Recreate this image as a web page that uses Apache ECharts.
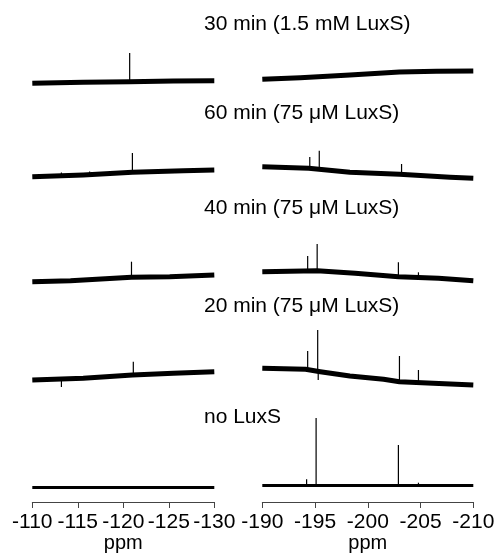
<!DOCTYPE html>
<html>
<head>
<meta charset="utf-8">
<script src="https://cdn.jsdelivr.net/npm/echarts@6/dist/echarts.min.js"></script>
<style>
html,body{margin:0;padding:0;background:#fff;}
#chart{width:499px;height:555px;}
</style>
</head>
<body>
<div id="chart"></div>
<script>
// ---------------- DATA ----------------
const rowLabels = ['30 min (1.5 mM LuxS)', '60 min (75 \u03bcM LuxS)', '40 min (75 \u03bcM LuxS)', '20 min (75 \u03bcM LuxS)', 'no LuxS'];
const leftRange = [-130, -110];
const rightRange = [-210, -190];
const tickInterval = 5;
const axisName = 'ppm';

// baselines: [ppm, intensity]
const base30L = [[-110, 6.7], [-115.6, 7.7], [-120.7, 8.3], [-125.5, 9], [-130, 9.2]];
const base30R = [[-190, 10.7], [-193.6, 12.3], [-198.3, 15], [-203, 18], [-206.5, 18.7], [-210, 19]];
const base60L = [[-110, 8.3], [-115.6, 10], [-121, 12.7], [-126.6, 14.3], [-130, 15]];
const base60R = [[-190, 18.3], [-194.4, 16.7], [-198.3, 12.7], [-203, 10.7], [-207.8, 7.7], [-210, 6.7]];
const base40L = [[-110, 8.3], [-114.2, 9.3], [-120.9, 12.7], [-125.1, 13.3], [-130, 15]];
const base40R = [[-190, 18.3], [-195.2, 19.3], [-198.8, 16.7], [-202.9, 13.3], [-206.7, 11.7], [-210, 9.3]];
const base20L = [[-110, 12], [-115.6, 13.7], [-121, 17], [-125.5, 18.7], [-130, 20.3]];
const base20R = [[-190, 23.7], [-194.1, 22.7], [-195.5, 20.3], [-198.3, 16], [-201.5, 12.7], [-203, 10.3], [-206.2, 8.7], [-210, 7]];
const base0L = [[-110, 14.5], [-130, 14.5]];
const base0R = [[-190, 16.5], [-210, 16.5]];

// peaks: [ppm, base intensity, tip intensity]
const peaks30L = [[-120.7, 8.3, 37]];
const peaks30R = [];
const peaks60L = [[-121, 12.5, 32], [-113.2, 9.5, 12.5], [-116.3, 10.3, 13.5]];
const peaks60R = [[-194.5, 16.7, 28], [-195.4, 16, 34.3], [-203.2, 10.7, 21]];
const peaks40L = [[-120.9, 12.5, 28.3]];
const peaks40R = [[-194.3, 19, 34], [-195.2, 19.3, 46], [-202.9, 13.3, 27.7], [-204.8, 12.5, 17.7]];
const peaks20L = [[-121.1, 16.5, 30.3], [-113.2, 13, 5]];
const peaks20R = [[-194.3, 22.7, 41], [-195.25, 21.5, 62], [-195.3, 21, 12], [-203, 10.3, 36], [-204.8, 9.5, 22]];
const peaks0L = [];
const peaks0R = [[-194.2, 16.5, 22.7], [-195.1, 16.5, 84], [-202.9, 16.5, 57], [-204.8, 16.5, 19.3], [-207, 16.5, 18]];

// ---------------- LAYOUT ----------------
const rowBottoms = [90, 185, 290, 392, 502];
const rowHeight = 90;
const labelY = [24, 113.7, 208.3, 306.2, 417.5];
const labelX = 204;
const panelLeft = [32.3, 262.3];
const panelWidth = [182, 211];
const baseWidths = [5, 5, 5, 5, 3];

const baselines = [[base30L, base30R], [base60L, base60R], [base40L, base40R], [base20L, base20R], [base0L, base0R]];
const peaks = [[peaks30L, peaks30R], [peaks60L, peaks60R], [peaks40L, peaks40R], [peaks20L, peaks20R], [peaks0L, peaks0R]];

const FONT = 'Liberation Sans, Arial, Helvetica, sans-serif';
const grid = [], xAxis = [], yAxis = [], series = [];

for (let r = 0; r < 5; r++) {
  for (let s = 0; s < 2; s++) {
    const idx = r * 2 + s;
    const range = s === 0 ? leftRange : rightRange;
    grid.push({left: panelLeft[s], width: panelWidth[s], top: rowBottoms[r] - rowHeight, height: rowHeight, containLabel: false});
    const isBottom = r === 4;
    xAxis.push({
      type: 'value', gridIndex: idx, min: range[0], max: range[1], interval: tickInterval, inverse: true,
      show: isBottom,
      splitLine: {show: false},
      axisLine: {show: true, lineStyle: {color: '#444', width: 1}},
      axisTick: {show: true, length: 6, lineStyle: {color: '#444', width: 1}},
      axisLabel: {show: true, color: '#000', fontSize: 21, fontFamily: FONT, margin: 10, showMinLabel: true, showMaxLabel: true},
      name: axisName, nameLocation: 'middle', nameGap: 29,
      nameTextStyle: {color: '#000', fontSize: 20, fontFamily: FONT}
    });
    yAxis.push({type: 'value', gridIndex: idx, min: 0, max: rowHeight, show: false, splitLine: {show: false}});
    series.push({
      type: 'line', xAxisIndex: idx, yAxisIndex: idx, data: baselines[r][s],
      showSymbol: false, symbol: 'none', clip: false, animation: false,
      lineStyle: {color: '#000', width: baseWidths[r], cap: 'butt', join: 'round'}
    });
    series.push({
      type: 'custom', xAxisIndex: idx, yAxisIndex: idx, data: peaks[r][s], clip: false, animation: false,
      encode: {x: 0, y: [1, 2]},
      renderItem: function (params, api) {
        const p0 = api.coord([api.value(0), api.value(1)]);
        const p1 = api.coord([api.value(0), api.value(2)]);
        return {type: 'line', shape: {x1: p0[0], y1: p0[1], x2: p1[0], y2: p1[1]}, style: {stroke: '#000', lineWidth: 1.2}};
      }
    });
  }
}

const graphic = rowLabels.map((t, i) => ({
  type: 'text', x: labelX, y: labelY[i],
  style: {text: t, fill: '#000', fontSize: 21, fontFamily: FONT, textVerticalAlign: 'middle', verticalAlign: 'middle', align: 'left'}
}));

const chart = echarts.init(document.getElementById('chart'), null, {renderer: 'canvas'});
chart.setOption({animation: false, backgroundColor: '#fff', grid, xAxis, yAxis, series, graphic});
</script>
</body>
</html>
